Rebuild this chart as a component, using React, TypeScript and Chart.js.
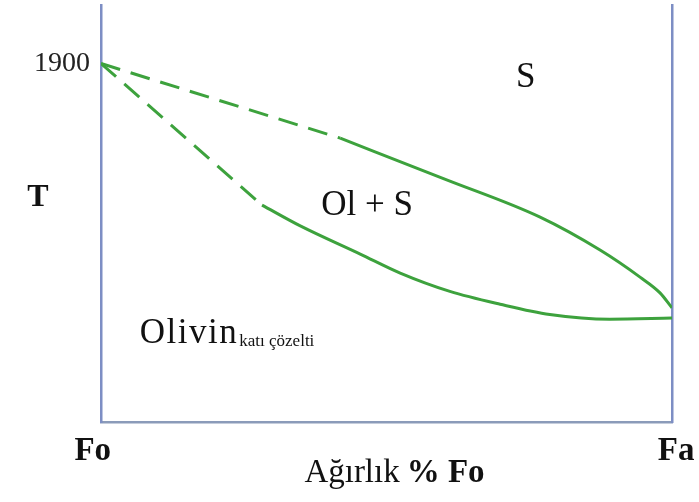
import React, { useEffect, useRef } from 'react';
import { Chart, registerables } from 'chart.js';

Chart.register(...registerables);

// ---- data (composition in wt% Fo, temperature in °C) ----
const xTickValues = [100, 0];
const xTickLabels = ['Fo', 'Fa'];
const yTickValues = [1900];
const yTickLabels = ['1900'];

const liquidusDashedFo = [100, 58.1];
const liquidusDashedT = [1900, 1696];
const liquidusFo = [58.1, 39.8, 23.1, 12.6, 5.6, 2.1, 0];
const liquidusT = [1696, 1584, 1480, 1390, 1316, 1273, 1232];

const solidusDashedFo = [100, 71.8];
const solidusDashedT = [1900, 1513];
const solidusFo = [71.8, 65.1, 54.6, 47.6, 38.9, 30.1, 21.4, 10.9, 0];
const solidusT = [1513, 1456, 1379, 1327, 1277, 1242, 1214, 1201, 1204];

const regionLabels = ['S', 'Ol + S'];
const regionFo = [25.6, 53.4];
const regionT = [1836, 1486];

const T_MIN = 920;
const T_MAX = 2060;

const FONT = '"Liberation Serif", "Times New Roman", serif';
const GREEN = '#3da23d';

const zip = (xs: number[], ys: number[]) => xs.map((x, i) => ({ x, y: ys[i] }));

const labelPlugin = {
  id: 'phaseLabels',
  afterDraw(chart: any) {
    const { ctx, chartArea, scales } = chart;
    const sx = scales.x;
    const sy = scales.y;
    ctx.save();
    ctx.fillStyle = '#111';
    ctx.textBaseline = 'alphabetic';

    // region labels
    ctx.font = `35px ${FONT}`;
    ctx.textAlign = 'center';
    regionLabels.forEach((t, i) => {
      ctx.fillText(t, sx.getPixelForValue(regionFo[i]), sy.getPixelForValue(regionT[i]));
    });

    // Olivin with subscript
    ctx.textAlign = 'left';
    ctx.font = `35px ${FONT}`;
    try { (ctx as any).letterSpacing = '1.5px'; } catch (e) { /* ignore */ }
    const ox = sx.getPixelForValue(93.2);
    const oy = sy.getPixelForValue(1136);
    ctx.fillText('Olivin', ox, oy);
    const ow = ctx.measureText('Olivin').width;
    try { (ctx as any).letterSpacing = '0px'; } catch (e) { /* ignore */ }
    ctx.font = `17px ${FONT}`;
    ctx.fillText('katı çözelti', ox + ow + 1, oy + 3);

    // y-axis title "T"
    ctx.font = `bold 32px ${FONT}`;
    ctx.textAlign = 'center';
    ctx.fillText('T', chartArea.left - 63, chartArea.top + 201);

    // x-axis title "Ağırlık % Fo"
    ctx.textAlign = 'left';
    ctx.font = `33px ${FONT}`;
    const p1 = 'Ağırlık';
    const w1 = ctx.measureText(p1).width;
    ctx.font = `bold 33px ${FONT}`;
    const p2 = '% Fo';
    const w2 = ctx.measureText(p2).width;
    const gap = 7;
    const total = w1 + gap + w2;
    const cx = (chartArea.left + chartArea.right) / 2 + 8;
    const by = chartArea.bottom + 60;
    const start = cx - total / 2;
    ctx.font = `33px ${FONT}`;
    ctx.fillText(p1, start, by);
    ctx.font = `bold 33px ${FONT}`;
    ctx.fillText(p2, start + w1 + gap, by);

    ctx.restore();
  },
};

export default function App() {
  const canvasRef = useRef<HTMLCanvasElement | null>(null);

  useEffect(() => {
    const canvas = canvasRef.current;
    if (!canvas) return;
    const lineBase = {
      borderColor: GREEN,
      borderWidth: 3,
      pointRadius: 0,
      fill: false,
      borderCapStyle: 'butt' as const,
    };
    const noPad = (s: any) => {
      s.paddingTop = 0;
      s.paddingBottom = 0;
      s.paddingLeft = 0;
      s.paddingRight = 0;
    };
    const chart = new Chart(canvas, {
      type: 'line',
      data: {
        datasets: [
          { ...lineBase, data: zip(liquidusDashedFo, liquidusDashedT), borderDash: [20, 11] },
          { ...lineBase, data: zip(liquidusFo, liquidusT), cubicInterpolationMode: 'monotone' },
          { ...lineBase, data: zip(solidusDashedFo, solidusDashedT), borderDash: [20, 11] },
          { ...lineBase, data: zip(solidusFo, solidusT), cubicInterpolationMode: 'monotone' },
        ],
      },
      options: {
        animation: false,
        responsive: false,
        layout: { padding: { top: 5, left: 0, right: 0, bottom: 0 } },
        plugins: { legend: { display: false }, tooltip: { enabled: false } },
        elements: { point: { radius: 0 } },
        scales: {
          x: {
            type: 'linear',
            min: 0,
            max: 100,
            reverse: true,
            grid: { display: false },
            border: { display: true, color: '#8b9bb9', width: 2.5 },
            afterBuildTicks: (s: any) => {
              s.ticks = xTickValues.map((v) => ({ value: v }));
            },
            ticks: {
              callback: (v: any) => {
                const lbl = xTickLabels[xTickValues.indexOf(Number(v))] ?? '';
                return Number(v) === 100 ? lbl + '  ' : ' ' + lbl;
              },
              font: { family: FONT, size: 33, weight: 'bold' },
              color: '#111',
              padding: 2,
              maxRotation: 0,
              autoSkip: false,
            },
            afterFit: (s: any) => {
              s.height = 80;
              noPad(s);
            },
          },
          y: {
            type: 'linear',
            min: T_MIN,
            max: T_MAX,
            grid: { display: false, drawTicks: false },
            border: { display: true, color: '#7d8ec4', width: 2.5 },
            afterBuildTicks: (s: any) => {
              s.ticks = yTickValues.map((v) => ({ value: v }));
            },
            ticks: {
              callback: (v: any) => yTickLabels[yTickValues.indexOf(Number(v))] ?? '',
              font: { family: FONT, size: 28 },
              color: '#222',
              padding: 11,
              autoSkip: false,
            },
            afterFit: (s: any) => {
              s.width = 101;
              noPad(s);
            },
          },
          y2: {
            type: 'linear',
            position: 'right',
            min: T_MIN,
            max: T_MAX,
            grid: { display: false, drawTicks: false },
            border: { display: true, color: '#7d8ec4', width: 2.5 },
            ticks: { display: false },
            afterFit: (s: any) => {
              s.width = 27;
              noPad(s);
            },
          },
        },
      },
      plugins: [labelPlugin],
    } as any);
    return () => chart.destroy();
  }, []);

  return (
    <div style={{ position: 'absolute', left: 0, top: 0, width: 699, height: 502, background: '#fff' }}>
      <canvas ref={canvasRef} width={699} height={502} />
    </div>
  );
}
